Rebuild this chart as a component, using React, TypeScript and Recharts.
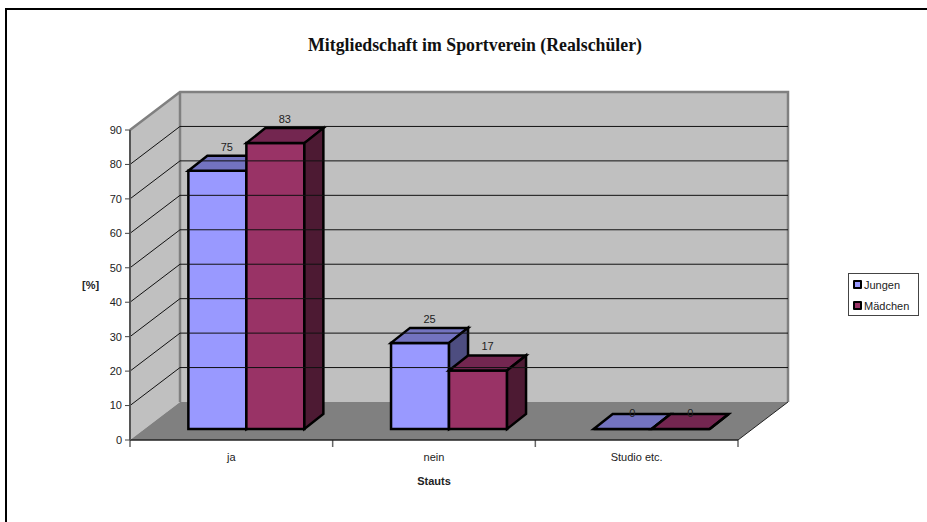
import React from 'react'
import { BarChart, Bar, XAxis, YAxis, LabelList, Legend, ReferenceArea, ReferenceLine } from 'recharts'

const categories = ['ja', 'nein', 'Studio etc.']
const jungen = [75, 25, 0]
const maedchen = [83, 17, 0]
const yTicks = [0, 10, 20, 30, 40, 50, 60, 70, 80, 90]
const gridTicks = [10, 20, 30, 40, 50, 60, 70, 80]

const tableData = categories.map((name, i) => ({ name, jungen: jungen[i], maedchen: maedchen[i] }))

const FONT = '"Liberation Sans", Arial, sans-serif'

// Tiefe der Wände bzw. der Balken im 3D-Look
const WALL_DX = 50
const WALL_DY = 38
const BAR_SHIFT_X = 15
const BAR_SHIFT_Y = 11
const BAR_DX = 19
const BAR_DY = 15

function pts(list: number[][]) {
  return list.map((p) => p.join(',')).join(' ')
}

function Walls({ x, y, width, height }: any) {
  const left = x
  const right = x + width
  const top = y
  const bottom = y + height
  const step = width / categories.length
  return (
    <g>
      <polygon points={pts([[left + WALL_DX, top - WALL_DY], [right + WALL_DX, top - WALL_DY], [right + WALL_DX, bottom - WALL_DY], [left + WALL_DX, bottom - WALL_DY]])} fill="#c0c0c0" />
      <polygon points={pts([[left, top], [left + WALL_DX, top - WALL_DY], [left + WALL_DX, bottom - WALL_DY], [left, bottom]])} fill="#c0c0c0" />
      <polygon points={pts([[left, bottom], [left + WALL_DX, bottom - WALL_DY], [right + WALL_DX, bottom - WALL_DY], [right, bottom]])} fill="#808080" />
      <polyline points={pts([[left, top], [left + WALL_DX, top - WALL_DY], [right + WALL_DX, top - WALL_DY], [right + WALL_DX, bottom - WALL_DY]])} fill="none" stroke="#808080" strokeWidth={2.5} />
      <line x1={left + WALL_DX} y1={top - WALL_DY} x2={left + WALL_DX} y2={bottom - WALL_DY} stroke="#808080" strokeWidth={2.5} />
      <line x1={right} y1={bottom} x2={right + WALL_DX} y2={bottom - WALL_DY} stroke="#222" strokeWidth={1} />
      {categories.concat('').map((_, i) => (
        <line key={i} x1={left + step * i} y1={bottom} x2={left + step * i} y2={bottom + 7} stroke="#666" strokeWidth={1.5} />
      ))}
    </g>
  )
}

function GridLine({ x1, y1, x2, y2 }: any) {
  return (
    <polyline
      points={pts([[x1, y1], [x1 + WALL_DX, y1 - WALL_DY], [x2 + WALL_DX, y2 - WALL_DY]])}
      fill="none"
      stroke="#111"
      strokeWidth={1}
    />
  )
}

function Bar3D({ x, y, width, height, fill, topFill, sideFill }: any) {
  const l = x + BAR_SHIFT_X
  const r = l + width
  const t = y - BAR_SHIFT_Y
  const b = t + height
  const common = { stroke: '#000', strokeWidth: 2.5, strokeLinejoin: 'miter' as const }
  return (
    <g>
      <polygon points={pts([[l, t], [r, t], [r, b], [l, b]])} fill={fill} {...common} />
      <polygon points={pts([[l, t], [l + BAR_DX, t - BAR_DY], [r + BAR_DX, t - BAR_DY], [r, t]])} fill={topFill} {...common} />
      <polygon points={pts([[r, t], [r + BAR_DX, t - BAR_DY], [r + BAR_DX, b - BAR_DY], [r, b]])} fill={sideFill} {...common} />
    </g>
  )
}

function BarLabel({ x, y, width, value }: any) {
  const cx = x + BAR_SHIFT_X + width / 2 + BAR_DX / 2
  const backEdge = y - BAR_SHIFT_Y - BAR_DY
  const cy = value === 0 ? backEdge - 1 : backEdge - 9
  return (
    <text x={cx} y={cy} textAnchor="middle" dominantBaseline="central" fontFamily={FONT} fontSize={11} fill="#222">
      {value}
    </text>
  )
}

function LegendBox({ payload }: any) {
  return (
    <div style={{ width: 71, height: 43, border: '1px solid #444', boxSizing: 'border-box', background: '#fff', fontFamily: FONT, fontSize: 11, color: '#222', paddingTop: 2 }}>
      {(payload || []).map((p: any) => (
        <div key={p.value} style={{ display: 'flex', alignItems: 'center', height: 17, marginBottom: 4, paddingLeft: 4 }}>
          <span style={{ display: 'inline-block', width: 5, height: 5, background: p.color, border: '2px solid #000', borderRadius: 1, marginRight: 2 }} />
          {p.value}
        </div>
      ))}
    </div>
  )
}

export default function App() {
  return (
    <div style={{ position: 'absolute', left: 0, top: 0, width: 927, height: 522, overflow: 'hidden', background: '#fff' }}>
      <div style={{ position: 'absolute', left: 5, top: 8, width: 940, height: 540, borderLeft: '2px solid #000', borderTop: '2px solid #000' }} />
      <div style={{ position: 'absolute', left: 0, top: 35, width: 950, textAlign: 'center', fontFamily: '"Liberation Serif", "Times New Roman", serif', fontWeight: 'bold', fontSize: 17.8, lineHeight: '20px', color: '#111' }}>
        Mitgliedschaft im Sportverein (Realschüler)
      </div>
      <div style={{ position: 'absolute', left: 0, top: 0 }}>
        <BarChart
          width={927}
          height={522}
          data={tableData}
          margin={{ top: 130, right: 189, bottom: 22, left: 70 }}
          barCategoryGap="21.4%"
          barGap={0}
        >
          <ReferenceArea y1={0} y2={90} shape={<Walls />} />
          {gridTicks.map((t) => (
            <ReferenceLine key={t} y={t} shape={<GridLine />} />
          ))}
          <XAxis
            dataKey="name"
            height={60}
            axisLine={{ stroke: '#222', strokeWidth: 1.5 }}
            tickLine={false}
            tick={{ fontFamily: FONT, fontSize: 11, fill: '#222' }}
            tickMargin={7}
            label={{ value: 'Stauts', position: 'insideBottom', offset: 15, style: { fontFamily: FONT, fontSize: 11, fontWeight: 'bold', fill: '#222' } }}
          />
          <YAxis
            width={60}
            domain={[0, 90]}
            ticks={yTicks}
            interval={0}
            axisLine={{ stroke: '#555', strokeWidth: 2 }}
            tickLine={{ stroke: '#444', strokeWidth: 1 }}
            tickSize={5}
            tickMargin={3}
            tick={{ fontFamily: FONT, fontSize: 11, fill: '#222' }}
            label={{ value: '[%]', position: 'insideLeft', offset: 12, style: { fontFamily: FONT, fontSize: 11, fontWeight: 'bold', fill: '#222' } }}
          />
          <Legend
            layout="vertical"
            align="center"
            verticalAlign="middle"
            wrapperStyle={{ left: 848, top: 273, width: 72 }}
            content={<LegendBox />}
          />
          <Bar dataKey="jungen" name="Jungen" fill="#9999ff" isAnimationActive={false} shape={<Bar3D topFill="#7373c0" sideFill="#4d4d80" />}>
            <LabelList dataKey="jungen" content={<BarLabel />} />
          </Bar>
          <Bar dataKey="maedchen" name="Mädchen" fill="#993366" isAnimationActive={false} shape={<Bar3D topFill="#732650" sideFill="#4d1a33" />}>
            <LabelList dataKey="maedchen" content={<BarLabel />} />
          </Bar>
        </BarChart>
      </div>
    </div>
  )
}
